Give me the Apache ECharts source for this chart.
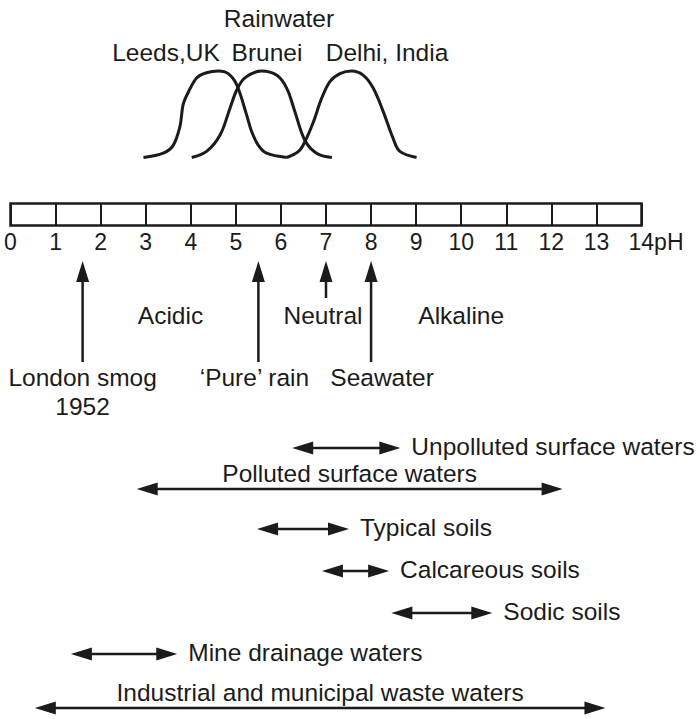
<!DOCTYPE html>
<html>
<head>
<meta charset="utf-8">
<script src="https://cdn.jsdelivr.net/npm/echarts@6/dist/echarts.min.js"></script>
<style>
  html, body { margin: 0; padding: 0; background: #fff; }
  #chart { width: 700px; height: 719px; }
</style>
</head>
<body>
<div id="chart"></div>
<script>
// rainwater pH distributions: [pH, relative height]
var leedsCurve = [[2.95, 0], [3.39, 0.05], [3.61, 0.14], [3.76, 0.36], [3.83, 0.61], [3.95, 0.76],
    [4.13, 0.92], [4.35, 0.98], [4.61, 1], [4.83, 0.97], [5.02, 0.84], [5.24, 0.49],
    [5.35, 0.30], [5.50, 0.14], [5.68, 0.05], [6.13, 0]];
var bruneiCurve = [[4.02, 0], [4.35, 0.07], [4.65, 0.26], [4.87, 0.57], [5.02, 0.78], [5.20, 0.92],
    [5.57, 1], [5.91, 0.95], [6.13, 0.80], [6.31, 0.53], [6.53, 0.20], [6.79, 0.05], [7.13, 0]];
var delhiCurve = [[6.13, 0], [6.39, 0.07], [6.53, 0.18], [6.72, 0.41], [6.90, 0.68], [7.09, 0.88],
    [7.31, 0.97], [7.57, 1], [7.83, 0.95], [8.05, 0.80], [8.27, 0.53], [8.49, 0.22],
    [8.64, 0.07], [9.01, 0]];

// pH scale
var phMin = 0;
var phMax = 14;

// single pH values pointed at from below the scale
var markerNames = ['London smog\n1952', '\u2018Pure\u2019 rain', 'Neutral', 'Seawater'];
var markerPH = [1.6, 5.5, 7, 8];

var regionNames = ['Acidic', 'Alkaline'];
var regionPH = [3.55, 10.0];

// pH ranges
var rangeNames = ['Unpolluted surface waters', 'Polluted surface waters', 'Typical soils',
    'Calcareous soils', 'Sodic soils', 'Mine drainage waters', 'Industrial and municipal waste waters'];
var rangeLow = [6.25, 2.8, 5.47, 6.91, 8.45, 1.34, 0.54];
var rangeHigh = [8.65, 12.25, 7.51, 8.4, 10.69, 3.7, 13.2];

// layout (page rows, not data)
var INK = '#1b1b1b';
var FONT = '"Liberation Sans", Arial, Helvetica, sans-serif';
var TEXT_SIZE = 24.5;
var rangeRowY = [448, 489, 529, 571, 613, 654, 708];
var rangeLabelAbove = [false, true, false, false, false, false, true];
var markerTipY = 261;
var markerBottomY = [362, 362, 298, 362];
var markerLabelY = [377, 377, 315, 377];
var markerLabelDx = [0, -4, -3, 11];
var regionLabelY = 315;

var chart = echarts.init(document.getElementById('chart'), null, { renderer: 'svg' });

function headPoints(tipX, tipY, dirX, dirY) {
    var len = 21, half = 6.5;
    var bx = tipX - dirX * len, by = tipY - dirY * len;
    return [[tipX, tipY], [bx - dirY * half, by + dirX * half], [bx + dirY * half, by - dirX * half]];
}

function curveSeries(name, data) {
    return {
        name: name, type: 'line', xAxisIndex: 0, yAxisIndex: 0,
        data: data, smooth: 0.35, showSymbol: false, clip: false,
        lineStyle: { color: INK, width: 3 }
    };
}

function textStyle(text, align, vAlign) {
    return { text: text, fill: INK, font: TEXT_SIZE + 'px ' + FONT, align: align, verticalAlign: vAlign };
}

var option = {
    animation: false,
    backgroundColor: '#fff',
    grid: [
        { left: 10.5, width: 631, top: 71, height: 86.5 },
        { left: 10.5, width: 631, top: 203.5, height: 22, show: true, borderColor: INK, borderWidth: 2.5, backgroundColor: 'transparent' },
        { left: 10.5, width: 631, top: 0, height: 719 }
    ],
    xAxis: [
        { gridIndex: 0, type: 'value', min: phMin, max: phMax, show: false },
        {
            gridIndex: 1, type: 'value', min: phMin, max: phMax, interval: 1,
            axisLine: { show: false }, axisTick: { show: false },
            splitLine: { show: true, lineStyle: { color: INK, width: 2, type: 'solid' } },
            axisLabel: {
                show: true, margin: 5, color: INK, fontSize: 23, fontFamily: FONT,
                formatter: function (v) { return v === phMax ? '{pad|}' + v + 'pH' : String(v); },
                rich: { pad: { width: 29 } }
            }
        },
        { gridIndex: 2, type: 'value', min: phMin, max: phMax, show: false }
    ],
    yAxis: [
        { gridIndex: 0, type: 'value', min: 0, max: 1, show: false },
        { gridIndex: 1, type: 'value', min: 0, max: 1, show: false },
        { gridIndex: 2, type: 'value', min: 0, max: 719, inverse: true, show: false }
    ],
    graphic: [
        { type: 'text', x: 279, y: 18, style: textStyle('Rainwater', 'center', 'middle') },
        { type: 'text', x: 166, y: 52, style: textStyle('Leeds,UK', 'center', 'middle') },
        { type: 'text', x: 267, y: 52, style: textStyle('Brunei', 'center', 'middle') },
        { type: 'text', x: 387, y: 52, style: textStyle('Delhi, India', 'center', 'middle') }
    ],
    series: [
        curveSeries('Leeds,UK', leedsCurve),
        curveSeries('Brunei', bruneiCurve),
        curveSeries('Delhi, India', delhiCurve),
        {
            // arrows pointing up at the scale
            type: 'custom', xAxisIndex: 2, yAxisIndex: 2,
            data: markerPH.map(function (v, i) { return [v, i]; }),
            renderItem: function (params, api) {
                var i = api.value(1);
                var tip = api.coord([api.value(0), markerTipY]);
                var bot = api.coord([api.value(0), markerBottomY[i]]);
                var lab = api.coord([api.value(0), markerLabelY[i]]);
                var st = textStyle(markerNames[i], 'center', 'top');
                st.lineHeight = 29;
                return {
                    type: 'group', children: [
                        { type: 'line', shape: { x1: tip[0], y1: tip[1] + 18, x2: bot[0], y2: bot[1] }, style: { stroke: INK, lineWidth: 2.5 } },
                        { type: 'polygon', shape: { points: headPoints(tip[0], tip[1], 0, -1) }, style: { fill: INK } },
                        { type: 'text', x: lab[0] + markerLabelDx[i], y: lab[1] - 14.5, style: st }
                    ]
                };
            }
        },
        {
            type: 'custom', xAxisIndex: 2, yAxisIndex: 2,
            data: regionPH.map(function (v, i) { return [v, i]; }),
            renderItem: function (params, api) {
                var p = api.coord([api.value(0), regionLabelY]);
                return { type: 'text', x: p[0], y: p[1], style: textStyle(regionNames[api.value(1)], 'center', 'middle') };
            }
        },
        {
            // double-headed range arrows
            type: 'custom', xAxisIndex: 2, yAxisIndex: 2,
            data: rangeLow.map(function (v, i) { return [v, rangeHigh[i], i]; }),
            renderItem: function (params, api) {
                var i = api.value(2);
                var a = api.coord([api.value(0), rangeRowY[i]]);
                var b = api.coord([api.value(1), rangeRowY[i]]);
                var label = rangeLabelAbove[i]
                    ? { type: 'text', x: (a[0] + b[0]) / 2, y: a[1] - 16, style: textStyle(rangeNames[i], 'center', 'middle') }
                    : { type: 'text', x: b[0] + 11, y: a[1] - 2, style: textStyle(rangeNames[i], 'left', 'middle') };
                return {
                    type: 'group', children: [
                        { type: 'line', shape: { x1: a[0] + 18, y1: a[1], x2: b[0] - 18, y2: b[1] }, style: { stroke: INK, lineWidth: 2.5 } },
                        { type: 'polygon', shape: { points: headPoints(a[0], a[1], -1, 0) }, style: { fill: INK } },
                        { type: 'polygon', shape: { points: headPoints(b[0], b[1], 1, 0) }, style: { fill: INK } },
                        label
                    ]
                };
            }
        }
    ]
};

chart.setOption(option);
</script>
</body>
</html>
